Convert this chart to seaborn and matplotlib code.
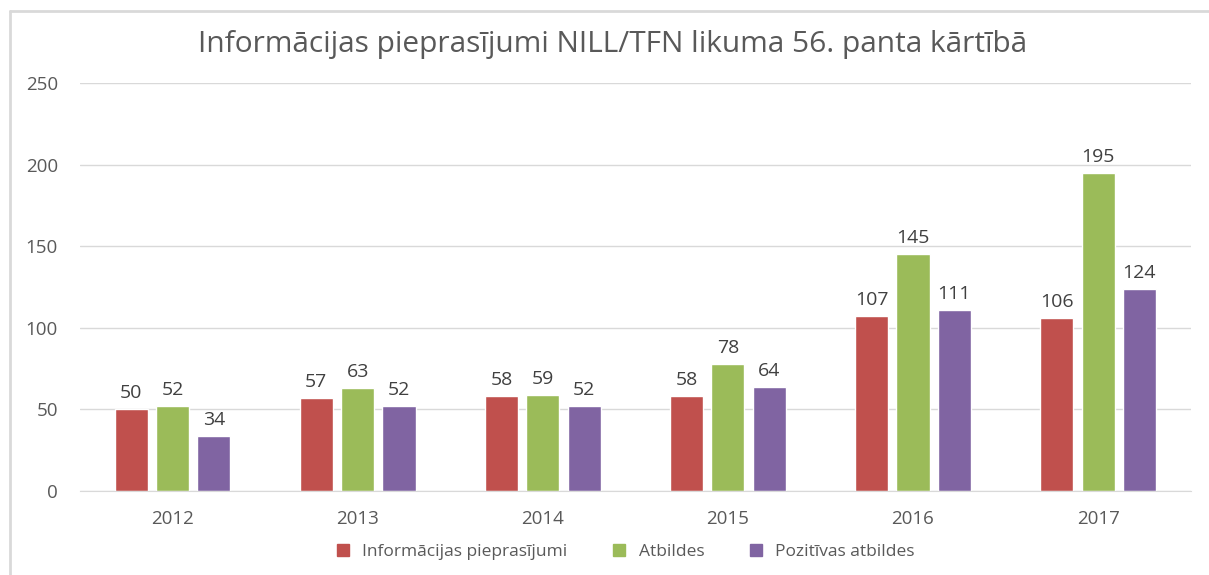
import pandas as pd
import matplotlib.pyplot as plt
import seaborn as sns
from matplotlib.lines import Line2D

# DATA
years = ['2012', '2013', '2014', '2015', '2016', '2017']
series = ['Informācijas pieprasījumi', 'Atbildes', 'Pozitīvas atbildes']
pieprasijumi = [50, 57, 58, 58, 107, 106]
atbildes = [52, 63, 59, 78, 145, 195]
pozitivas = [34, 52, 52, 64, 111, 124]
colors = ['#C0504D', '#9BBB59', '#8064A2']

df = pd.DataFrame({
    'Gads': years * 3,
    'Sērija': [series[0]] * 6 + [series[1]] * 6 + [series[2]] * 6,
    'Skaits': pieprasijumi + atbildes + pozitivas,
})

sns.set_style('white')
plt.rcParams['font.family'] = ['Open Sans', 'DejaVu Sans']

fig = plt.figure(figsize=(12.09, 5.75), dpi=100)
ax = fig.add_axes([0.0662, 0.146, 0.9186, 0.7097])

sns.barplot(
    data=df, x='Gads', y='Skaits', hue='Sērija',
    palette=colors, width=0.67, gap=0.2, ax=ax,
    legend=False, saturation=1,
)

text_col = '#595959'
ax.set_ylim(0, 250)
ax.set_yticks(range(0, 251, 50))
ax.grid(axis='y', color='#D9D9D9', linewidth=1)
ax.set_axisbelow(True)
for s in ['top', 'right', 'left']:
    ax.spines[s].set_visible(False)
ax.spines['bottom'].set_color('#D9D9D9')
ax.tick_params(axis='both', length=0, labelsize=13.5, colors=text_col)
ax.tick_params(axis='y', pad=16)
ax.tick_params(axis='x', pad=14)
ax.set_xlabel('')
ax.set_ylabel('')

for cont in ax.containers:
    ax.bar_label(cont, padding=5, fontsize=14, color='#404040')

fig.text(0.5066, 0.922, 'Informācijas pieprasījumi NILL/TFN likuma 56. panta kārtībā',
         ha='center', va='center', fontsize=21.5, color=text_col)

handles = [Line2D([], [], marker='s', linestyle='', markersize=9,
                  markerfacecolor=c, markeredgecolor=c) for c in colors]
fig.legend(handles, series, loc='center', bbox_to_anchor=(0.513, 0.04),
           ncol=3, frameon=False, fontsize=12.5, handletextpad=0.1,
           columnspacing=2.0, labelcolor=text_col)

# chart frame
fig.add_artist(Line2D([0.008, 0.008], [0, 0.981], color='#D9D9D9', lw=2,
                      transform=fig.transFigure))
fig.add_artist(Line2D([0.008, 1], [0.981, 0.981], color='#D9D9D9', lw=2,
                      transform=fig.transFigure))

fig.savefig('out.png', dpi=100)
